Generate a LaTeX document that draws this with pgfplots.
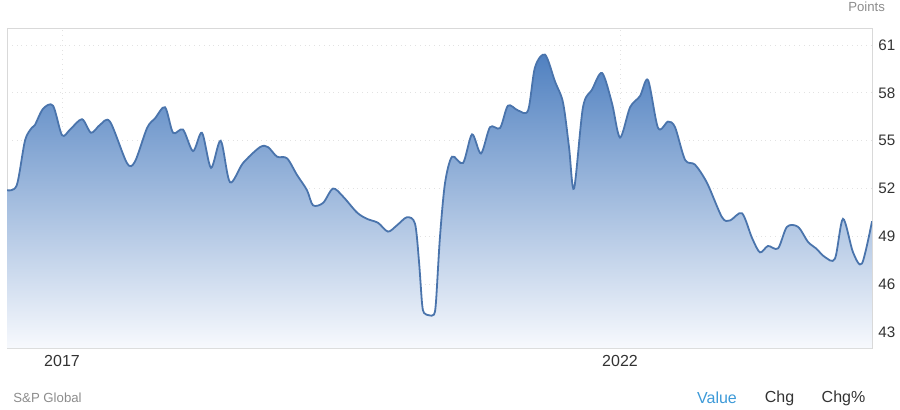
\documentclass[border=0pt]{standalone}
\usepackage{pgfplots}
\pgfplotsset{compat=1.18}
\usepackage{pgfplotstable}
\usepackage{fontspec}
\setmainfont{Liberation Sans}

\definecolor{linec}{HTML}{4A74AC}
\definecolor{topc}{HTML}{4F80C0}
\definecolor{botc}{HTML}{F7F9FD}
\definecolor{gridc}{HTML}{E2E2E2}
\definecolor{framec}{HTML}{D9D9D9}
\definecolor{lbl}{HTML}{333333}
\definecolor{muted}{HTML}{8C8C8C}
\definecolor{valc}{HTML}{3D9AD8}

% index points (x = decimal year)
\pgfplotstableread{
year val
2016.507 51.9
2016.594 52.2
2016.668 55.0
2016.728 55.8
2016.758 56.0
2016.830 57.0
2016.919 57.2
2017.000 55.35
2017.072 55.7
2017.179 56.35
2017.260 55.5
2017.341 56.0
2017.430 56.2
2017.582 53.6
2017.654 53.7
2017.762 55.8
2017.833 56.4
2017.923 57.1
2017.995 55.5
2018.084 55.7
2018.174 54.35
2018.254 55.5
2018.335 53.3
2018.422 55.0
2018.505 52.4
2018.622 53.6
2018.774 54.6
2018.846 54.6
2018.927 54.0
2019.016 53.9
2019.106 52.85
2019.195 51.9
2019.249 50.95
2019.339 51.1
2019.428 52.0
2019.518 51.5
2019.643 50.5
2019.733 50.1
2019.832 49.85
2019.921 49.3
2020.002 49.7
2020.091 50.2
2020.163 49.8
2020.199 47.4
2020.226 44.8
2020.244 44.2
2020.290 44.05
2020.333 44.1
2020.351 44.9
2020.387 49.0
2020.432 52.35
2020.495 54.0
2020.593 53.6
2020.674 55.4
2020.754 54.2
2020.835 55.85
2020.925 55.8
2020.996 57.2
2021.086 56.9
2021.176 56.9
2021.238 59.6
2021.328 60.4
2021.418 58.7
2021.489 57.4
2021.543 54.6
2021.588 52.0
2021.668 57.1
2021.749 58.2
2021.839 59.25
2021.928 57.35
2022.000 55.2
2022.090 57.1
2022.179 57.8
2022.251 58.8
2022.341 55.8
2022.430 56.2
2022.493 55.85
2022.583 53.8
2022.672 53.5
2022.780 52.35
2022.914 50.2
2022.986 50.0
2023.093 50.45
2023.183 48.9
2023.254 48.0
2023.326 48.4
2023.416 48.25
2023.496 49.6
2023.595 49.6
2023.685 48.65
2023.756 48.25
2023.837 47.7
2023.926 47.6
2023.998 50.1
2024.088 48.0
2024.168 47.3
2024.258 49.95
}\pmi

\begin{document}
\begin{tikzpicture}
% page frame: 900 x 409 px at 0.5pt per px
\path[use as bounding box] (0,0) rectangle (450pt,204.5pt);

\begin{axis}[
    at={(3.5pt,30.5pt)}, anchor=south west,
    scale only axis,
    width=432.5pt, height=160pt,
    xmin=2016.507, xmax=2024.258,
    ymin=42, ymax=62.07,
    xtick={2017,2022}, xticklabels={2017,2022},
    ytick={43,46,49,52,55,58,61},
    yticklabels={43,46,49,52,55,58,61},
    yticklabel pos=right,
    major tick length=0pt,
    grid=major,
    major grid style={gridc, dotted, line width=0.5pt},
    axis line style={framec, line width=0.5pt},
    xticklabel style={font=\fontsize{8}{9}\selectfont, text=lbl},
    yticklabel style={font=\fontsize{7.6}{9}\selectfont, text=lbl, anchor=west, xshift=-0.3pt},
    clip=true,
]

% gradient area under the curve, closed along the bottom border
\addplot[draw=none, smooth, top color=topc, bottom color=botc]
    table[x=year, y=val] {\pmi}
    -- (axis cs:2024.258,42) -- (axis cs:2016.507,42) -- cycle;
\addplot[linec, line width=0.9pt, smooth] table[x=year, y=val] {\pmi};

\end{axis}

\node[anchor=east, text=muted, font=\fontsize{6.6}{8}\selectfont] at (446pt,201pt) {Points};
\node[anchor=west, text=muted, font=\fontsize{6.6}{8}\selectfont, inner sep=0pt] at (6.5pt,5.5pt) {S\&P Global};
\node[text=valc, font=\fontsize{8}{9}\selectfont] at (358.5pt,5.5pt) {Value};
\node[text=lbl, font=\fontsize{8}{9}\selectfont] at (389.75pt,5.5pt) {Chg};
\node[text=lbl, font=\fontsize{8}{9}\selectfont] at (421.75pt,5.5pt) {Chg\%};
\end{tikzpicture}
\end{document}
